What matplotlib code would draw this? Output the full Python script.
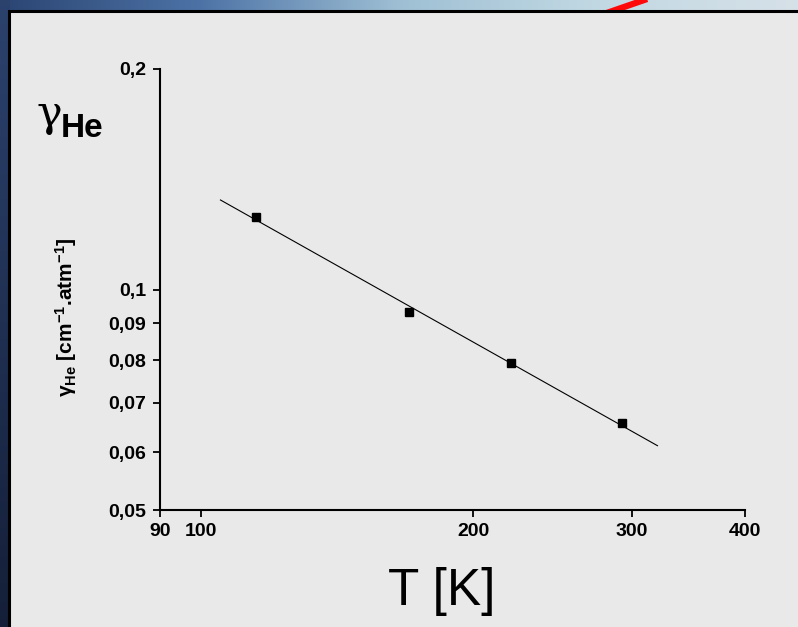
import numpy as np
import matplotlib
matplotlib.use("Agg")
import matplotlib.pyplot as plt
from matplotlib.patches import Rectangle
from matplotlib.ticker import FixedLocator, FixedFormatter, NullLocator

plt.rcParams['font.family'] = ['Liberation Sans', 'DejaVu Sans']
plt.rcParams['font.weight'] = 'bold'
plt.rcParams['mathtext.fontset'] = 'custom'
plt.rcParams['mathtext.rm'] = 'Liberation Sans:bold'
plt.rcParams['mathtext.bf'] = 'Liberation Sans:bold'
plt.rcParams['mathtext.default'] = 'bf'

# measured He broadening coefficient vs temperature
T_meas = [115, 170, 220, 292]
gamma_meas = [0.1255, 0.0932, 0.0793, 0.0658]

# fitted power law, drawn between its two end points
T_fit = [105, 320]
gamma_fit = [0.1325, 0.0612]

x_ticks = [90, 100, 200, 300, 400]
x_ticklabels = ['90', '100', '200', '300', '400']
y_ticks = [0.05, 0.06, 0.07, 0.08, 0.09, 0.1, 0.2]
y_ticklabels = ['0,05', '0,06', '0,07', '0,08', '0,09', '0,1', '0,2']

W, H = 798, 627
fig = plt.figure(figsize=(W / 100, H / 100), dpi=100)

#------------------------------------------
# slide background (blue strips + gray panel)
#------------------------------------------
bg = fig.add_axes([0, 0, 1, 1])
bg.axis('off')

top_cols = np.array([[0.17, 0.27, 0.45],
                     [0.30, 0.45, 0.65],
                     [0.62, 0.75, 0.83],
                     [0.76, 0.85, 0.89],
                     [0.84, 0.88, 0.91]])
stops = np.linspace(0, 1, len(top_cols))
xs = np.linspace(0, 1, 400)
grad = np.stack([np.interp(xs, stops, top_cols[:, k]) for k in range(3)], axis=-1)
bg.imshow(grad[None, :, :], extent=[0, W, 12, 0], aspect='auto', zorder=0)

ys = np.linspace(0, 1, 300)
left_cols = np.stack([np.interp(ys, [0, 1], [0.17, 0.08]),
                      np.interp(ys, [0, 1], [0.26, 0.12]),
                      np.interp(ys, [0, 1], [0.43, 0.22])], axis=-1)
bg.imshow(left_cols[:, None, :], extent=[0, 10, H, 0], aspect='auto', zorder=0)

bg.plot([598, 650], [16, -2], color='#ff0a0a', lw=4.5, solid_capstyle='butt', zorder=1)
bg.add_patch(Rectangle((9, 11), W, H, facecolor='#e8e9e8', edgecolor='black', lw=2.2, zorder=2))
bg.set_xlim(0, W)
bg.set_ylim(H, 0)

#------------------------------------------
# main log-log plot
#------------------------------------------
ax = fig.add_axes([160 / W, 1 - 510 / H, (745 - 160) / W, (510 - 69) / H])
ax.set_facecolor('none')
ax.set_xscale('log')
ax.set_yscale('log')
ax.plot(T_fit, gamma_fit, color='black', lw=0.8)
ax.plot(T_meas, gamma_meas, ls='none', marker='s', ms=6, color='black')
ax.set_xlim(90, 400)
ax.set_ylim(0.05, 0.2)

ax.xaxis.set_major_locator(FixedLocator(x_ticks))
ax.xaxis.set_major_formatter(FixedFormatter(x_ticklabels))
ax.yaxis.set_major_locator(FixedLocator(y_ticks))
ax.yaxis.set_major_formatter(FixedFormatter(y_ticklabels))
ax.xaxis.set_minor_locator(NullLocator())
ax.yaxis.set_minor_locator(NullLocator())
ax.tick_params(direction='out', length=5, width=1.3, labelsize=14)
ax.tick_params(axis='x', pad=4)
ax.tick_params(axis='y', pad=5)
for s in ['top', 'right']:
    ax.spines[s].set_visible(False)
for s in ['left', 'bottom']:
    ax.spines[s].set_linewidth(1.5)

fig.text(442 / W, 1 - 605 / H, 'T [K]', fontsize=37, fontweight='normal',
         ha='center', va='baseline')
fig.text(66 / W, 1 - 317 / H, 'γ$_{He}$ [cm$^{-1}$.atm$^{-1}$]', fontsize=15,
         rotation=90, ha='center', va='center')
fig.text(36 / W, 1 - 126 / H, 'γ', fontsize=31, fontweight='normal',
         family='DejaVu Serif', ha='left', va='baseline')
fig.text(61 / W, 1 - 137 / H, 'He', fontsize=24, ha='left', va='baseline')

fig.savefig('out.png', dpi=100)
